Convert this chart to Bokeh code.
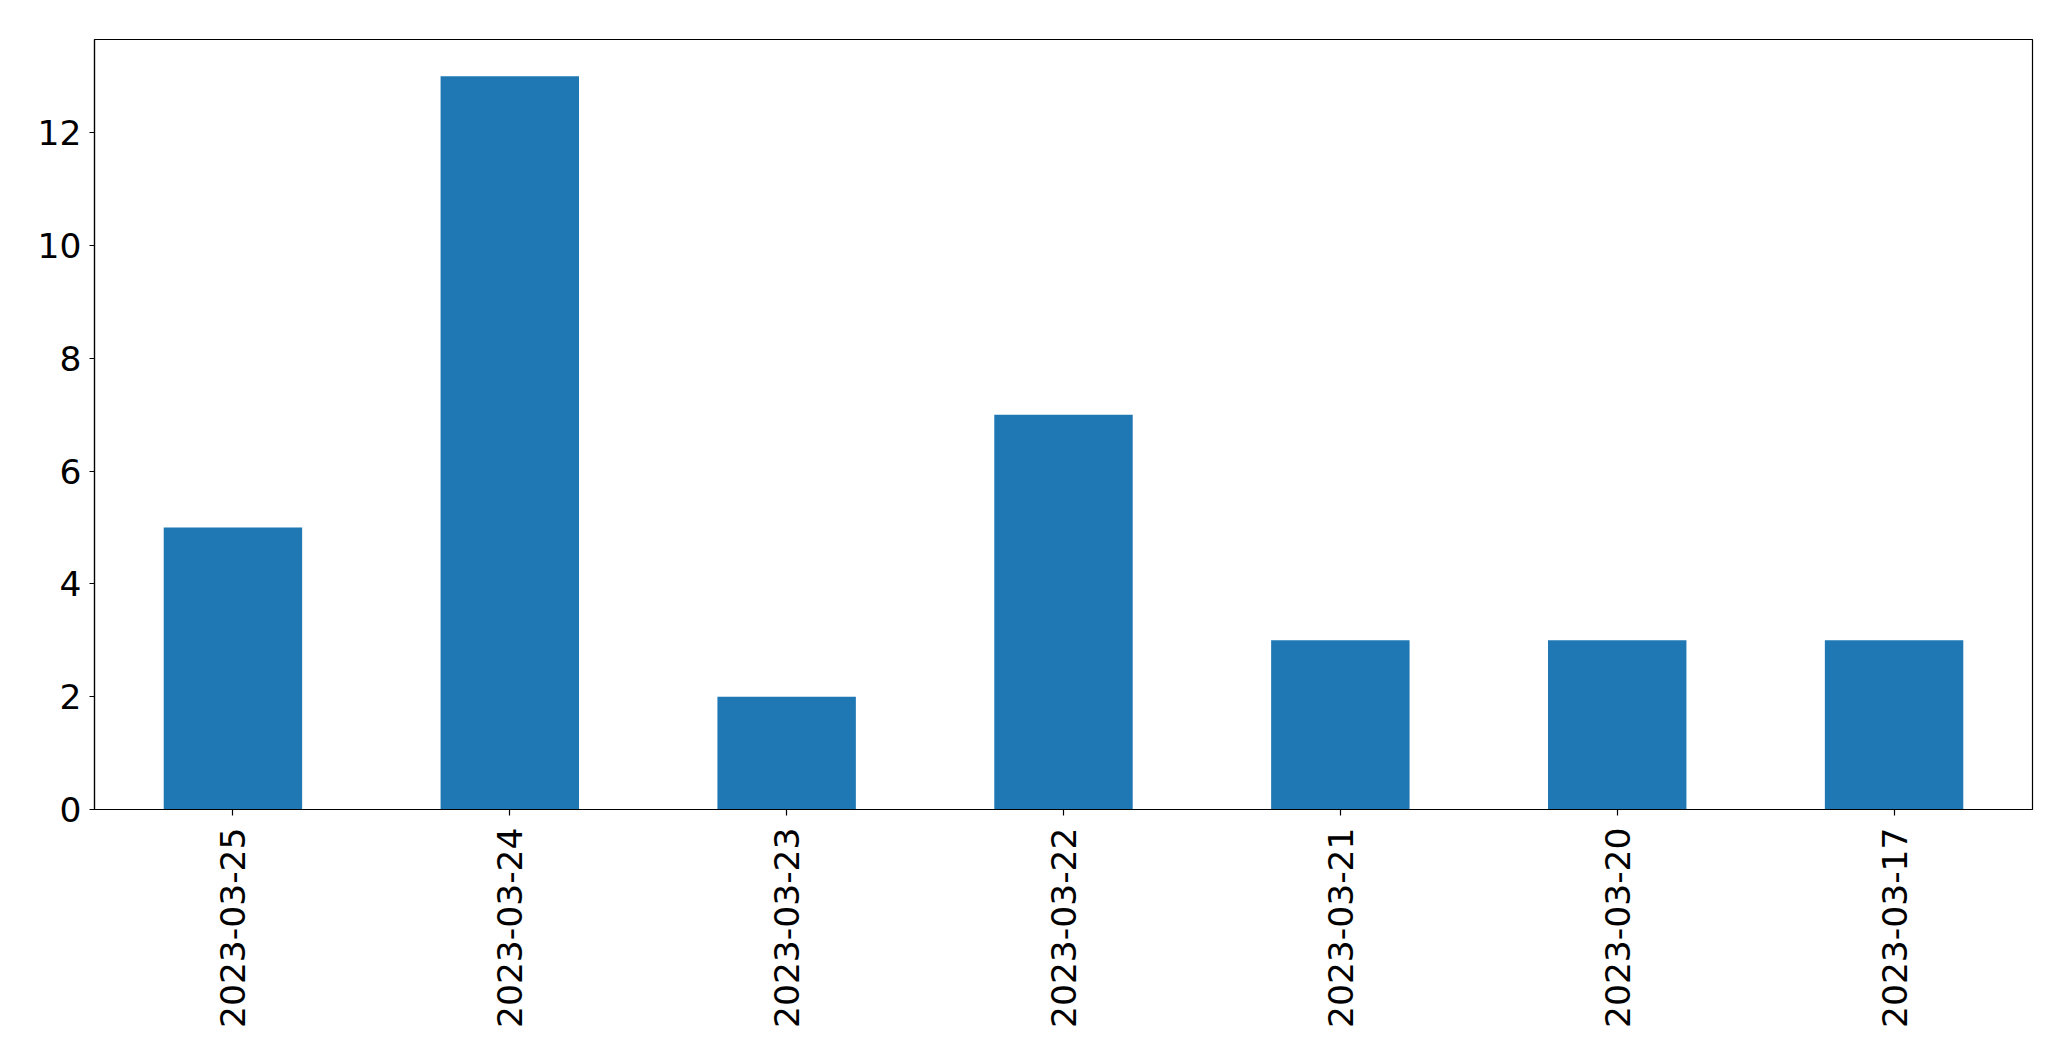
import math
from bokeh.plotting import figure
from bokeh.models import FactorRange, Range1d, FixedTicker, ColumnDataSource
from bokeh.embed import file_html
from bokeh.resources import INLINE

dates = ["2023-03-25", "2023-03-24", "2023-03-23", "2023-03-22",
         "2023-03-21", "2023-03-20", "2023-03-17"]
counts = [5, 13, 2, 7, 3, 3, 3]
y_ticks = [0, 2, 4, 6, 8, 10, 12]

source = ColumnDataSource(data=dict(date=dates, count=counts))

p = figure(
    width=2055, height=1045,
    x_range=FactorRange(factors=dates, range_padding=0),
    y_range=Range1d(0, max(counts) * 1.05),
    output_backend="svg", toolbar_location=None,
    min_border_left=94, min_border_right=23,
    min_border_top=39, min_border_bottom=236,
)

p.vbar(x="date", top="count", width=0.5, source=source,
       fill_color="#1f77b4", line_color=None)

p.xgrid.visible = False
p.ygrid.visible = False
p.outline_line_color = "black"
p.outline_line_width = 1.2
p.outline_line_alpha = 1

for ax in (p.xaxis, p.yaxis):
    ax.axis_line_color = "black"
    ax.axis_line_width = 1.2
    ax.major_tick_line_color = "black"
    ax.major_tick_line_width = 1.2
    ax.major_tick_in = 0
    ax.minor_tick_line_color = None
    ax.major_label_text_font = "DejaVu Sans"
    ax.major_label_text_font_size = "34.5px"
    ax.major_label_text_color = "black"

p.xaxis.major_tick_out = 6
p.xaxis.major_label_standoff = 12
p.xaxis.major_label_orientation = math.pi / 2
p.yaxis.major_tick_out = 5
p.yaxis.major_label_standoff = 8
p.yaxis.ticker = FixedTicker(ticks=y_ticks)

open("out.html", "w").write(file_html(p, INLINE))
